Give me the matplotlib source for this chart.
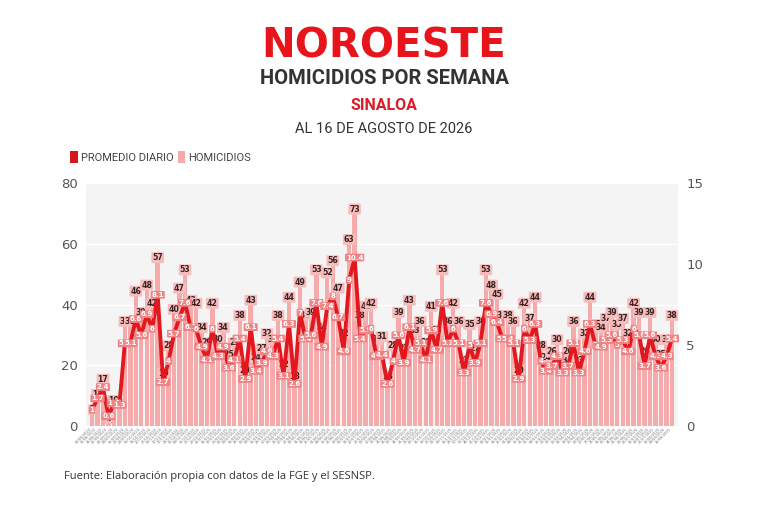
import matplotlib
matplotlib.use("Agg")
import matplotlib.pyplot as plt
from matplotlib.patches import Patch
import pandas as pd

homicidios = [7, 12, 17, 4, 10, 9, 36, 36, 46, 39, 48, 42, 57, 19, 28, 40, 47, 53, 43, 42,
              34, 29, 42, 30, 34, 25, 29, 38, 20, 43, 24, 27, 32, 30, 38, 22, 44, 18, 49, 38,
              39, 53, 34, 52, 56, 47, 32, 63, 73, 38, 41, 42, 30, 31, 18, 28, 39, 27, 43, 33,
              36, 29, 41, 33, 53, 36, 42, 36, 23, 35, 27, 36, 53, 48, 45, 38, 38, 36, 20, 42,
              37, 44, 28, 24, 26, 30, 23, 26, 36, 23, 32, 44, 35, 34, 37, 39, 35, 37, 32, 42,
              39, 26, 39, 30, 25, 30, 38]
promedio = [1, 1.7, 2.4, 0.6, 1.4, 1.3, 5.1, 5.1, 6.6, 5.6, 6.9, 6, 8.1, 2.7, 4, 5.7, 6.7, 7.6, 6.1, 6,
            4.9, 4.1, 6, 4.3, 4.9, 3.6, 4.1, 5.4, 2.9, 6.1, 3.4, 3.9, 4.6, 4.3, 5.4, 3.1, 6.3, 2.6, 7, 5.4,
            5.6, 7.6, 4.9, 7.4, 8, 6.7, 4.6, 9, 10.4, 5.4, 5.9, 6, 4.3, 4.4, 2.6, 4, 5.6, 3.9, 6.1, 4.7,
            5.1, 4.1, 5.9, 4.7, 7.6, 5.1, 6, 5.1, 3.3, 5, 3.9, 5.1, 7.6, 6.9, 6.4, 5.4, 5.4, 5.1, 2.9, 6,
            5.3, 6.3, 4, 3.4, 3.7, 4.3, 3.3, 3.7, 5.1, 3.3, 4.6, 6.3, 5, 4.9, 5.3, 5.6, 5, 5.3, 4.6, 6,
            5.6, 3.7, 5.6, 4.3, 3.6, 4.3, 5.4]
semanas = [d.strftime("%d/%m/%Y") for d in pd.date_range(end="2026-08-16", periods=len(homicidios), freq="7D")]

left_ticks = [0, 20, 40, 60, 80]
right_ticks = [0, 5, 10, 15]

RED = "#e3171e"
PINK = "#f5aaab"
W, H = 768, 512
fig = plt.figure(figsize=(7.68, 5.12), dpi=100)

ax = fig.add_axes([86 / W, 1 - 426 / H, (678 - 86) / W, (426 - 183) / H])
ax.set_facecolor("#f4f4f4")
x = list(range(len(homicidios)))
ax.bar(x, homicidios, width=0.8, color=PINK, zorder=2)
ax.set_xlim(-1.1, len(homicidios) + 0.1)
ax.set_ylim(0, 80)
ax.set_yticks(left_ticks)
ax.yaxis.grid(True, color="white", lw=1.0, zorder=0)
ax.set_axisbelow(True)
for s in ax.spines.values():
    s.set_visible(False)
ax.tick_params(axis="y", length=0, pad=6, labelsize=9.5, labelcolor="#555555")
ax.set_xticks(x)
ax.set_xticklabels(semanas, rotation=45, ha="right", fontsize=2.6, color="#777777")
ax.tick_params(axis="x", length=0, pad=1)

ax2 = ax.twinx()
ax2.set_ylim(0, 15)
ax2.set_yticks(right_ticks)
for s in ax2.spines.values():
    s.set_visible(False)
ax2.tick_params(axis="y", length=0, pad=6, labelsize=9.5, labelcolor="#555555")
ax2.plot(x, promedio, color=RED, lw=2.8, zorder=3, solid_joinstyle="round")

for xi, v in zip(x, homicidios):
    ax.annotate(str(v), (xi, v), xytext=(0, -3.5), textcoords="offset points",
                ha="center", va="center", fontsize=5.6, fontweight="bold",
                color="#3a2222", zorder=4,
                bbox=dict(boxstyle="round,pad=0.12", fc="#f7bcbc", ec="none"))
for xi, v in zip(x, promedio):
    lab = ("%g" % v)
    ax2.text(xi, v, lab, ha="center", va="center", fontsize=5.0, fontweight="bold",
             color="white", zorder=5,
             bbox=dict(boxstyle="round,pad=0.12", fc="#ef8385", ec="none"))

fig.text(0.5, 1 - 46 / H, "NOROESTE", ha="center", va="center", fontsize=29,
         fontweight="heavy", color="#e8141b", family="DejaVu Sans")
fig.text(0.5, 1 - 78 / H, "HOMICIDIOS POR SEMANA", ha="center", va="center", fontsize=14.5,
         fontweight="bold", color="#333333", family="Roboto")
fig.text(0.5, 1 - 105 / H, "SINALOA", ha="center", va="center", fontsize=11.5,
         fontweight="bold", color="#d8202a", family="Roboto")
fig.text(0.5, 1 - 129 / H, "AL 16 DE AGOSTO DE 2026", ha="center", va="center", fontsize=10.5,
         color="#333333", family="Roboto")

handles = [Patch(facecolor="#d8161d", edgecolor="none", label="PROMEDIO DIARIO"),
           Patch(facecolor=PINK, edgecolor="none", label="HOMICIDIOS")]
fig.legend(handles=handles, loc="center left", bbox_to_anchor=(60 / W, 1 - 157 / H), ncol=2,
           frameon=False, handlelength=0.7, handleheight=1.3, handletextpad=0.25,
           columnspacing=0.4, labelcolor="#444444", prop={"family": "Roboto", "size": 8})

fig.text(64 / W, 1 - 477 / H, "Fuente: Elaboración propia con datos de la FGE y el SESNSP.",
         ha="left", va="center", fontsize=8, color="#333333", family="Open Sans")

fig.savefig("out.png", dpi=100)
